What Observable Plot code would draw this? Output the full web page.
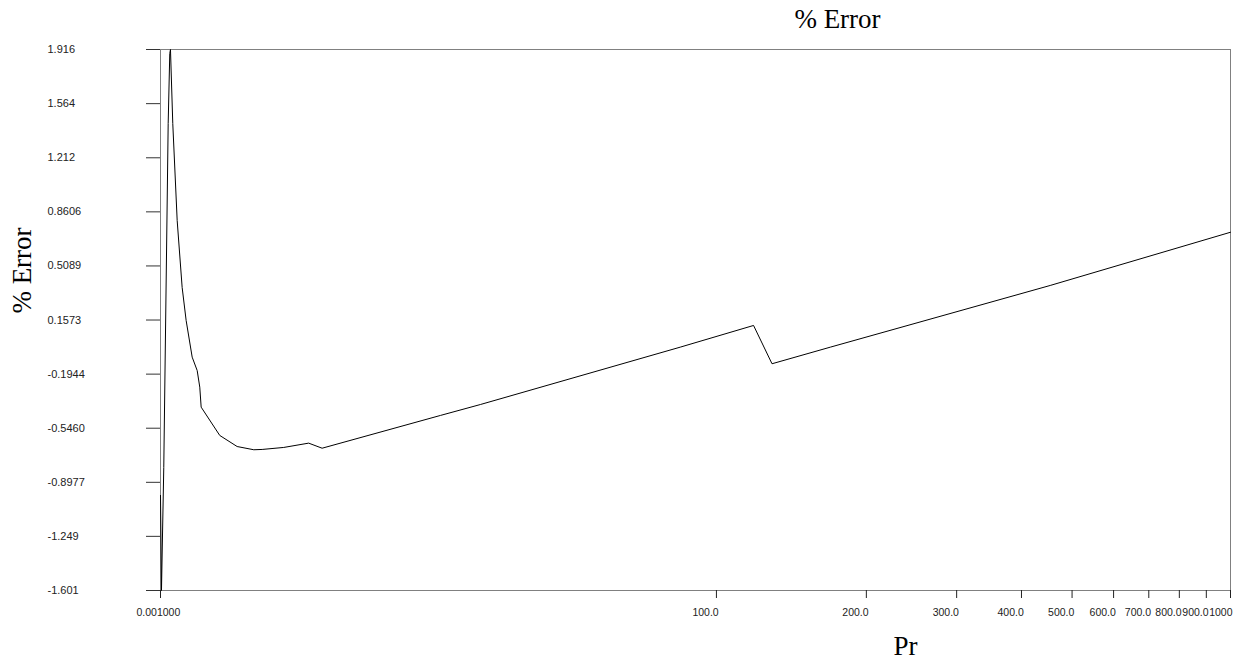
<!DOCTYPE html>
<html>
<head>
<meta charset="utf-8">
<script src="https://cdn.jsdelivr.net/npm/d3@7"></script>
<script src="https://cdn.jsdelivr.net/npm/@observablehq/plot@0.6"></script>
<style>
  html, body { margin: 0; padding: 0; background: #fff; }
</style>
</head>
<body>
<div id="chart"></div>
<script>
// Data
const pr  = [0.001, 0.043, 0.143, 0.338, 0.409, 0.441, 0.545, 0.747, 0.98, 1.171, 1.465, 1.715, 1.847, 1.918, 2.913, 3.918, 4.955, 5.506, 7.017, 8.949, 10.08, 23.45, 29.74, 84.1, 119.1, 129.8, 169.8, 454.1, 1000];
const err = [-0.983, -1.601, -0.801, 1.435, 1.890, 1.916, 1.435, 0.804, 0.369, 0.154, -0.084, -0.171, -0.279, -0.409, -0.593, -0.665, -0.686, -0.684, -0.671, -0.643, -0.676, -0.463, -0.392, -0.019, 0.122, -0.127, -0.019, 0.382, 0.728];

const xTickValues = [0.001, 100, 200, 300, 400, 500, 600, 700, 800, 900, 1000];
const xTickLabels = ["0.001000", "100.0", "200.0", "300.0", "400.0", "500.0", "600.0", "700.0", "800.0", "900.0", "1000"];
const yTickValues = [1.916, 1.564, 1.212, 0.8606, 0.5089, 0.1573, -0.1944, -0.5460, -0.8977, -1.249, -1.601];
const yTickLabels = ["1.916", "1.564", "1.212", "0.8606", "0.5089", "0.1573", "-0.1944", "-0.5460", "-0.8977", "-1.249", "-1.601"];

const titleText = "% Error";
const xLabel = "Pr";
const yLabel = "% Error";

const rows = pr.map((p, i) => ({pr: p, err: err[i]}));
const xLab = new Map(xTickValues.map((v, i) => [v, xTickLabels[i]]));
const yLab = new Map(yTickValues.map((v, i) => [v, yTickLabels[i]]));
const lastX = xTickValues[xTickValues.length - 1];
const xTicksMain = xTickValues.slice(0, -1);

const sans = "'Liberation Sans', Arial, sans-serif";
const serif = "'Liberation Serif', 'Times New Roman', serif";

const chart = Plot.plot({
  width: 1240,
  height: 663,
  marginLeft: 160,
  marginRight: 10,
  marginTop: 49,
  marginBottom: 73,
  style: {background: "#fff", fontFamily: sans, fontSize: "11px", color: "#222"},
  x: {type: "symlog", constant: 10, domain: [0.001, 1000]},
  y: {type: "linear", domain: [-1.601, 1.916]},
  marks: [
    Plot.frame({stroke: "#808080", strokeWidth: 1}),
    // y axis: ticks + left-aligned labels
    Plot.axisY({ticks: yTickValues, tickSize: 14, tickPadding: 99, textAnchor: "start",
      tickFormat: d => yLab.get(d), stroke: "#333", fill: "#222", label: null}),
    // x axis ticks
    Plot.axisX({ticks: xTickValues, tickSize: 8, fill: "none", stroke: "#222", label: null}),
    // x axis labels
    Plot.axisX({ticks: xTicksMain, tickSize: 0, tickPadding: 18, textAnchor: "start", dx: -24,
      fontSize: 10.5, tickFormat: d => xLab.get(d), fill: "#222", label: null}),
    Plot.axisX({ticks: [lastX], tickSize: 0, tickPadding: 18, textAnchor: "end", dx: 2,
      fontSize: 10.5, tickFormat: d => xLab.get(d), fill: "#222", label: null}),
    Plot.line(rows, {x: "pr", y: "err", stroke: "#000", strokeWidth: 1}),
    // title and axis labels
    Plot.text([titleText], {frameAnchor: "top", dx: 142, dy: -30, textAnchor: "middle", lineAnchor: "middle",
      fontFamily: serif, fontSize: 27, fill: "#000"}),
    Plot.text([xLabel], {frameAnchor: "bottom", dx: 210, dy: 56, textAnchor: "middle", lineAnchor: "middle",
      fontFamily: serif, fontSize: 27, fill: "#000"}),
    Plot.text([yLabel], {frameAnchor: "left", dx: -138, dy: -49.5, rotate: -90, textAnchor: "middle", lineAnchor: "middle",
      fontFamily: serif, fontSize: 27, fill: "#000"})
  ]
});
document.getElementById("chart").appendChild(chart);
</script>
</body>
</html>
